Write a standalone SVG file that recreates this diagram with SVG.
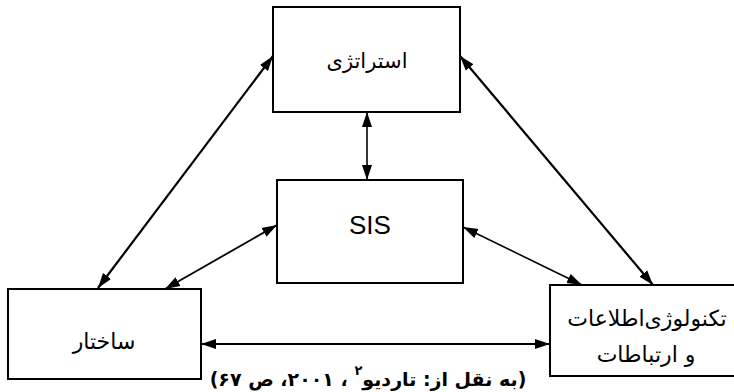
<svg xmlns="http://www.w3.org/2000/svg" width="734" height="392" viewBox="0 0 734 392">
<style>
.box{fill:#fff;stroke:#000;stroke-width:2}
.fa{font-family:"DejaVu Sans",sans-serif;fill:#000;text-anchor:middle;direction:rtl;unicode-bidi:embed}
.lat{font-family:"Liberation Sans",Arial,sans-serif;fill:#000;text-anchor:middle}
.c{stroke:#000;fill:none;marker-start:url(#ah);marker-end:url(#ah)}
</style>
<defs>
<marker id="ah" markerUnits="userSpaceOnUse" markerWidth="16" markerHeight="12" refX="15" refY="6" orient="auto-start-reverse" viewBox="0 0 16 12">
<path d="M0,1 L15,6 L0,11 z" fill="#000"/>
</marker>
</defs>
<rect width="734" height="392" fill="#fff"/>
<g id="connectors">
<line class="c" x1="273" y1="56" x2="98" y2="288" stroke-width="2.2"/>
<line class="c" x1="460" y1="56" x2="653" y2="285" stroke-width="2.2"/>
<line class="c" x1="367" y1="112" x2="367" y2="180" stroke-width="1.6"/>
<line class="c" x1="277" y1="225" x2="165" y2="289" stroke-width="1.8"/>
<line class="c" x1="463" y1="227" x2="582" y2="285" stroke-width="1.6"/>
<line class="c" x1="201" y1="344" x2="550" y2="344" stroke-width="1.8"/>
</g>
<g id="strategy">
<rect class="box" x="273" y="7" width="187" height="105"/>
<text class="fa" x="367" y="68" font-size="21">استراتژی</text>
</g>
<g id="sis">
<rect class="box" x="277" y="180" width="186" height="103"/>
<text class="lat" x="370" y="234" font-size="26">SIS</text>
</g>
<g id="structure">
<rect class="box" x="8" y="289" width="193" height="90"/>
<text class="fa" x="104" y="349" font-size="22">ساختار</text>
</g>
<g id="it">
<rect class="box" x="550" y="285" width="200" height="91"/>
<text class="fa" x="647" y="326" font-size="22">تکنولوژی‌اطلاعات</text>
<text class="fa" x="646" y="362" font-size="22">و ارتباطات</text>
</g>
<g id="caption">
<text class="fa" x="368" y="386" font-size="19" font-weight="bold">(به نقل از: تاردیو<tspan dy="-11" font-size="13">۲</tspan><tspan dy="11"> ، ۲۰۰۱، ص ۶۷)</tspan></text>
</g>
</svg>
